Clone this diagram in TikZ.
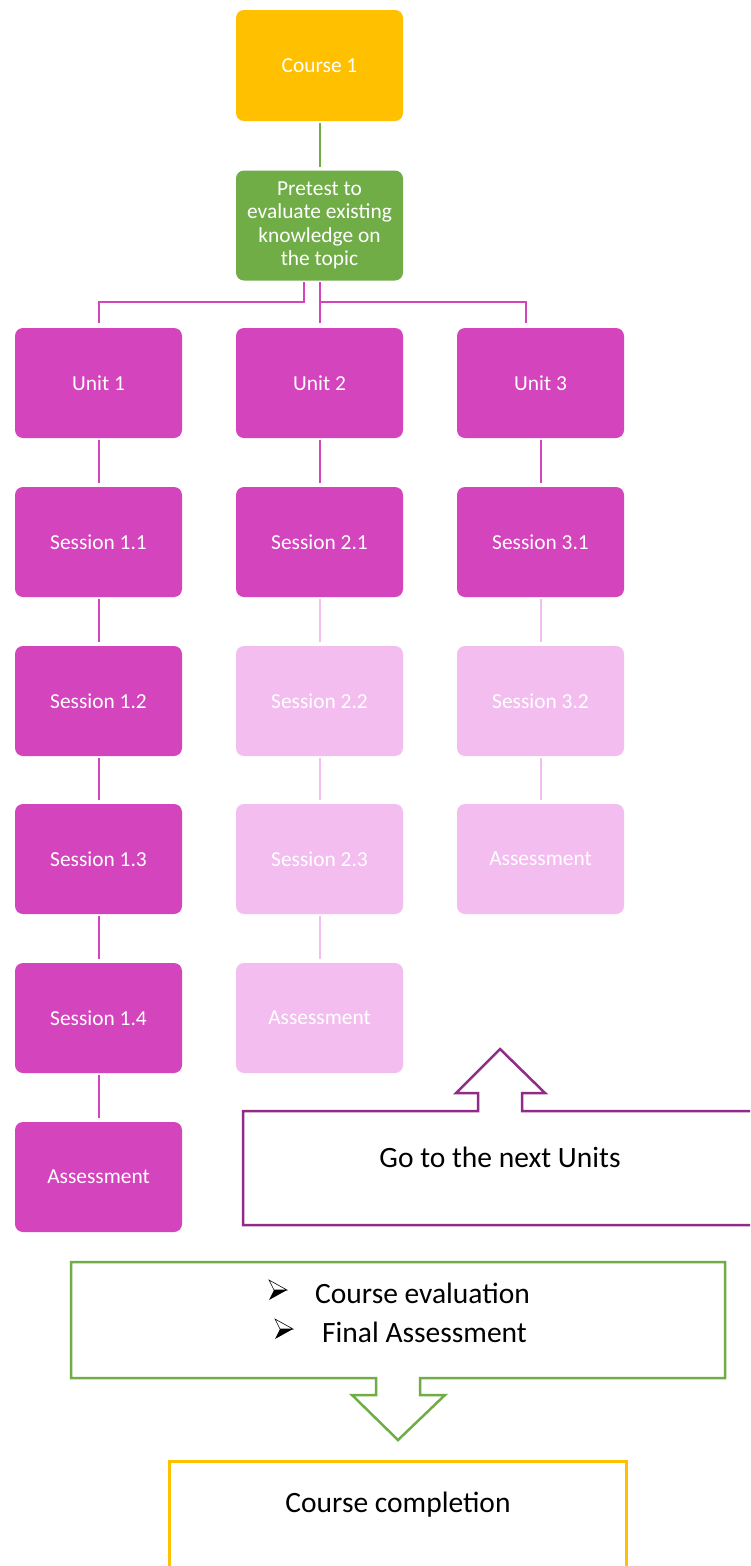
\documentclass[tikz,border=0pt]{standalone}
\usepackage{fontspec}
\setmainfont{Carlito}
\definecolor{courseyellow}{HTML}{FFC000}
\definecolor{pregreen}{HTML}{70AD47}
\definecolor{unitmag}{HTML}{D444BC}
\definecolor{lightmag}{HTML}{F3BEEF}
\definecolor{calloutpurple}{HTML}{912B88}
\tikzset{
  box/.style={rectangle, rounded corners=8pt, minimum width=167pt, minimum height=110pt,
    inner sep=0pt, text=white, align=center, font=\fontsize{21.4}{23.5}\selectfont},
  darkbox/.style={box, fill=unitmag},
  lightbox/.style={box, fill=lightmag},
  darkline/.style={draw=unitmag, line width=2pt, shorten <=2pt, shorten >=4pt},
  lightline/.style={draw=lightmag, line width=2pt, shorten <=2pt, shorten >=4pt},
  bigtext/.style={font=\fontsize{29.5}{36}\selectfont, text=black, inner sep=0pt},
  % three-d arrowhead bullet: lit upper half, dark lower half
  pics/arrowbullet/.style={code={
    \filldraw[fill=white, draw=black, line width=0.6pt, line join=miter]
      (-9,-10) -- (9,0) -- (-4,0) -- cycle;
    \fill[black] (-4,0) -- (9,0) -- (-9,10) -- cycle;
  }},
}
\begin{document}
\begin{tikzpicture}[x=1pt, y=-1pt]
\useasboundingbox (0,0) rectangle (750,1566);
\clip (0,0) rectangle (750,1566);
\fill[white] (0,0) rectangle (750,1566);

% top of the tree
\node[box, fill=courseyellow, minimum height=111pt] (c1) at (319.5,65.5) {Course 1};
\node[box, fill=pregreen] (pre) at (319.5,225.5) {Pretest to\\evaluate existing\\knowledge on\\the topic};

% units
\node[darkbox] (u1) at (98.5,383) {Unit 1};
\node[darkbox] (u2) at (319.5,383) {Unit 2};
\node[darkbox] (u3) at (540.5,383) {Unit 3};

% unit 1 sessions
\node[darkbox] (s11) at (98.5,542) {Session 1.1};
\node[darkbox] (s12) at (98.5,701) {Session 1.2};
\node[darkbox] (s13) at (98.5,859) {Session 1.3};
\node[darkbox] (s14) at (98.5,1018) {Session 1.4};
\node[darkbox] (a1) at (98.5,1177) {Assessment};

% unit 2 sessions
\node[darkbox] (s21) at (319.5,542) {Session 2.1};
\node[lightbox] (s22) at (319.5,701) {Session 2.2};
\node[lightbox] (s23) at (319.5,859) {Session 2.3};
\node[lightbox] (a2) at (319.5,1018) {Assessment};

% unit 3 sessions
\node[darkbox] (s31) at (540.5,542) {Session 3.1};
\node[lightbox] (s32) at (540.5,701) {Session 3.2};
\node[lightbox] (a3) at (540.5,859) {Assessment};

% connectors
\draw[draw=pregreen, line width=2pt, shorten <=2pt, shorten >=5pt] (c1.south) -- ([yshift=-1.5pt]pre.north);
\coordinate (bus) at (0,302);
\draw[draw=unitmag, line width=2pt] ([xshift=-15.5pt,yshift=-1.5pt]pre.south) |- (bus -| u1) -- ([yshift=5pt]u1.north);
\draw[draw=unitmag, line width=2pt] ([yshift=-1.5pt]pre.south) -- ([yshift=5pt]u2.north);
\draw[draw=unitmag, line width=2pt] ([xshift=1.5pt]pre.south |- bus) -| ([xshift=-15pt,yshift=5pt]u3.north);

\draw[darkline] (u1) -- (s11);
\draw[darkline] (s11) -- (s12);
\draw[darkline] (s12) -- (s13);
\draw[darkline] (s13) -- (s14);
\draw[darkline] (s14) -- (a1);

\draw[darkline] (u2) -- (s21);
\draw[lightline] (s21) -- (s22);
\draw[lightline] (s22) -- (s23);
\draw[lightline] (s23) -- (a2);

\draw[darkline] (u3) -- (s31);
\draw[lightline] (s31) -- (s32);
\draw[lightline] (s32) -- (a3);

% up-arrow callout
\draw[calloutpurple, line width=2.5pt, line join=miter]
  (243,1111) -- (478,1111) -- (478,1093) -- (456,1093) -- (500,1049) -- (545,1093)
  -- (522,1093) -- (522,1111) -- (770,1111) -- (770,1225) -- (243,1225) -- cycle;
\node[bigtext] (next) at (500,1157) {Go to the next Units};

% down-arrow callout
\draw[pregreen, line width=2.5pt, line join=miter]
  (71,1262) -- (725,1262) -- (725,1378) -- (420,1378) -- (420,1395) -- (445,1395)
  -- (398,1440) -- (352,1395) -- (376,1395) -- (376,1378) -- (71,1378) -- cycle;
\coordinate (b1) at (278,1290);
\coordinate (b2) at (284,1329);
\pic at (b1) {arrowbullet};
\pic at (b2) {arrowbullet};
\node[bigtext, anchor=west] (eval) at (315,1293) {Course evaluation};
\node[bigtext, anchor=west] (final) at (322,1332) {Final Assessment};

% completion box
\draw[courseyellow, line width=3pt] (169,1600) -- (169,1461) -- (626,1461) -- (626,1600);
\node[bigtext] (done) at (398,1505) {Course completion};
\end{tikzpicture}
\end{document}
